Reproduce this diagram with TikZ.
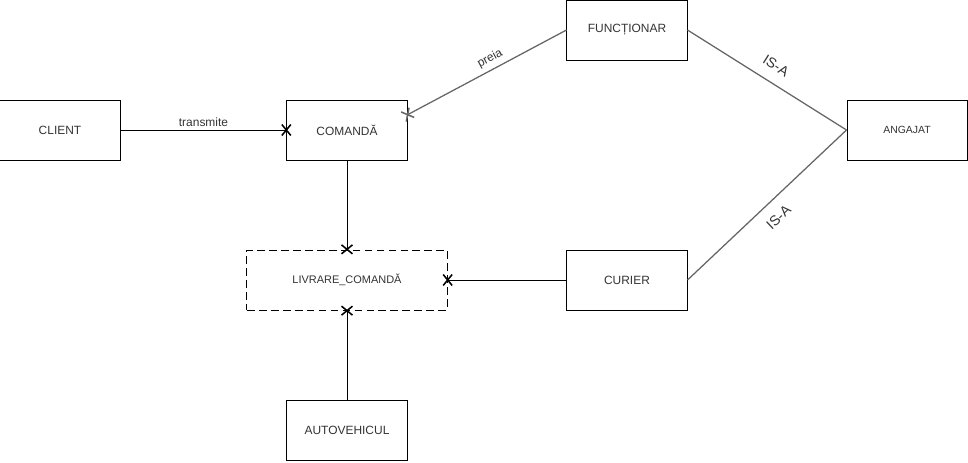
\documentclass[tikz,border=0pt]{standalone}
\usepackage{fontspec}
\setmainfont{Liberation Sans}
\usepackage{tikz}
\usetikzlibrary{arrows.meta,positioning,calc}
\definecolor{linkgray}{RGB}{102,102,102}
\definecolor{txtgray}{RGB}{51,51,51}

\tikzset{
  entity/.style={draw=black, line width=0.7pt, minimum width=3cm, minimum height=1.5cm, inner sep=0pt, text=txtgray, font=\fontsize{8.5}{10}\selectfont},
  weak/.style={entity, dash pattern=on 5.5pt off 3pt, minimum width=5cm, font=\fontsize{7.8}{9}\selectfont},
  link/.style={line width=0.7pt, draw=black},
  isa/.style={line width=0.9pt, draw=linkgray},
  xtip/.tip={Rays[n=4, length=9pt, width=11pt, line width=1.1pt, sep=-3.5pt]},
  lbl/.style={text=txtgray, font=\fontsize{8.5}{10}\selectfont, inner sep=1pt}
}

\begin{document}
\begin{tikzpicture}[x=0.025cm, y=-0.025cm]
\useasboundingbox (0,0) rectangle (968,462);

\node[entity] (client) at (60,130) {CLIENT};
\node[entity] (comanda) at (347,130) {COMANDĂ};
\node[entity] (functionar) at (627,30) {FUNCȚIONAR};
\node[entity, font=\fontsize{7.4}{9}\selectfont] (angajat) at (907,130) {ANGAJAT};
\node[weak] (livrare) at (347,280) {LIVRARE\_COMANDĂ};
\node[entity] (curier) at (627,280) {CURIER};
\node[entity] (auto) at (347,430) {AUTOVEHICUL};

% relatii
\draw[link, -xtip] (client) -- node[lbl, above=1pt] {transmite} (comanda);
\draw[isa, xtip-] ($(comanda.east)!0.5!(comanda.north east)$) -- node[lbl, pos=0.55, sloped, above=2pt] {preia} (functionar.west);
\draw[link, -xtip] (comanda) -- (livrare);
\draw[link, -xtip] (curier) -- (livrare);
\draw[link, -xtip] (auto) -- (livrare);

% specializare
\draw[isa] (functionar.east) -- node[lbl, pos=0.5, sloped, above=7pt, font=\fontsize{10}{12}\selectfont] {IS-A} (angajat.west);
\draw[isa] (curier.east) -- node[lbl, pos=0.5, sloped, below=7pt, font=\fontsize{10}{12}\selectfont] {IS-A} (angajat.west);
\end{tikzpicture}
\end{document}
